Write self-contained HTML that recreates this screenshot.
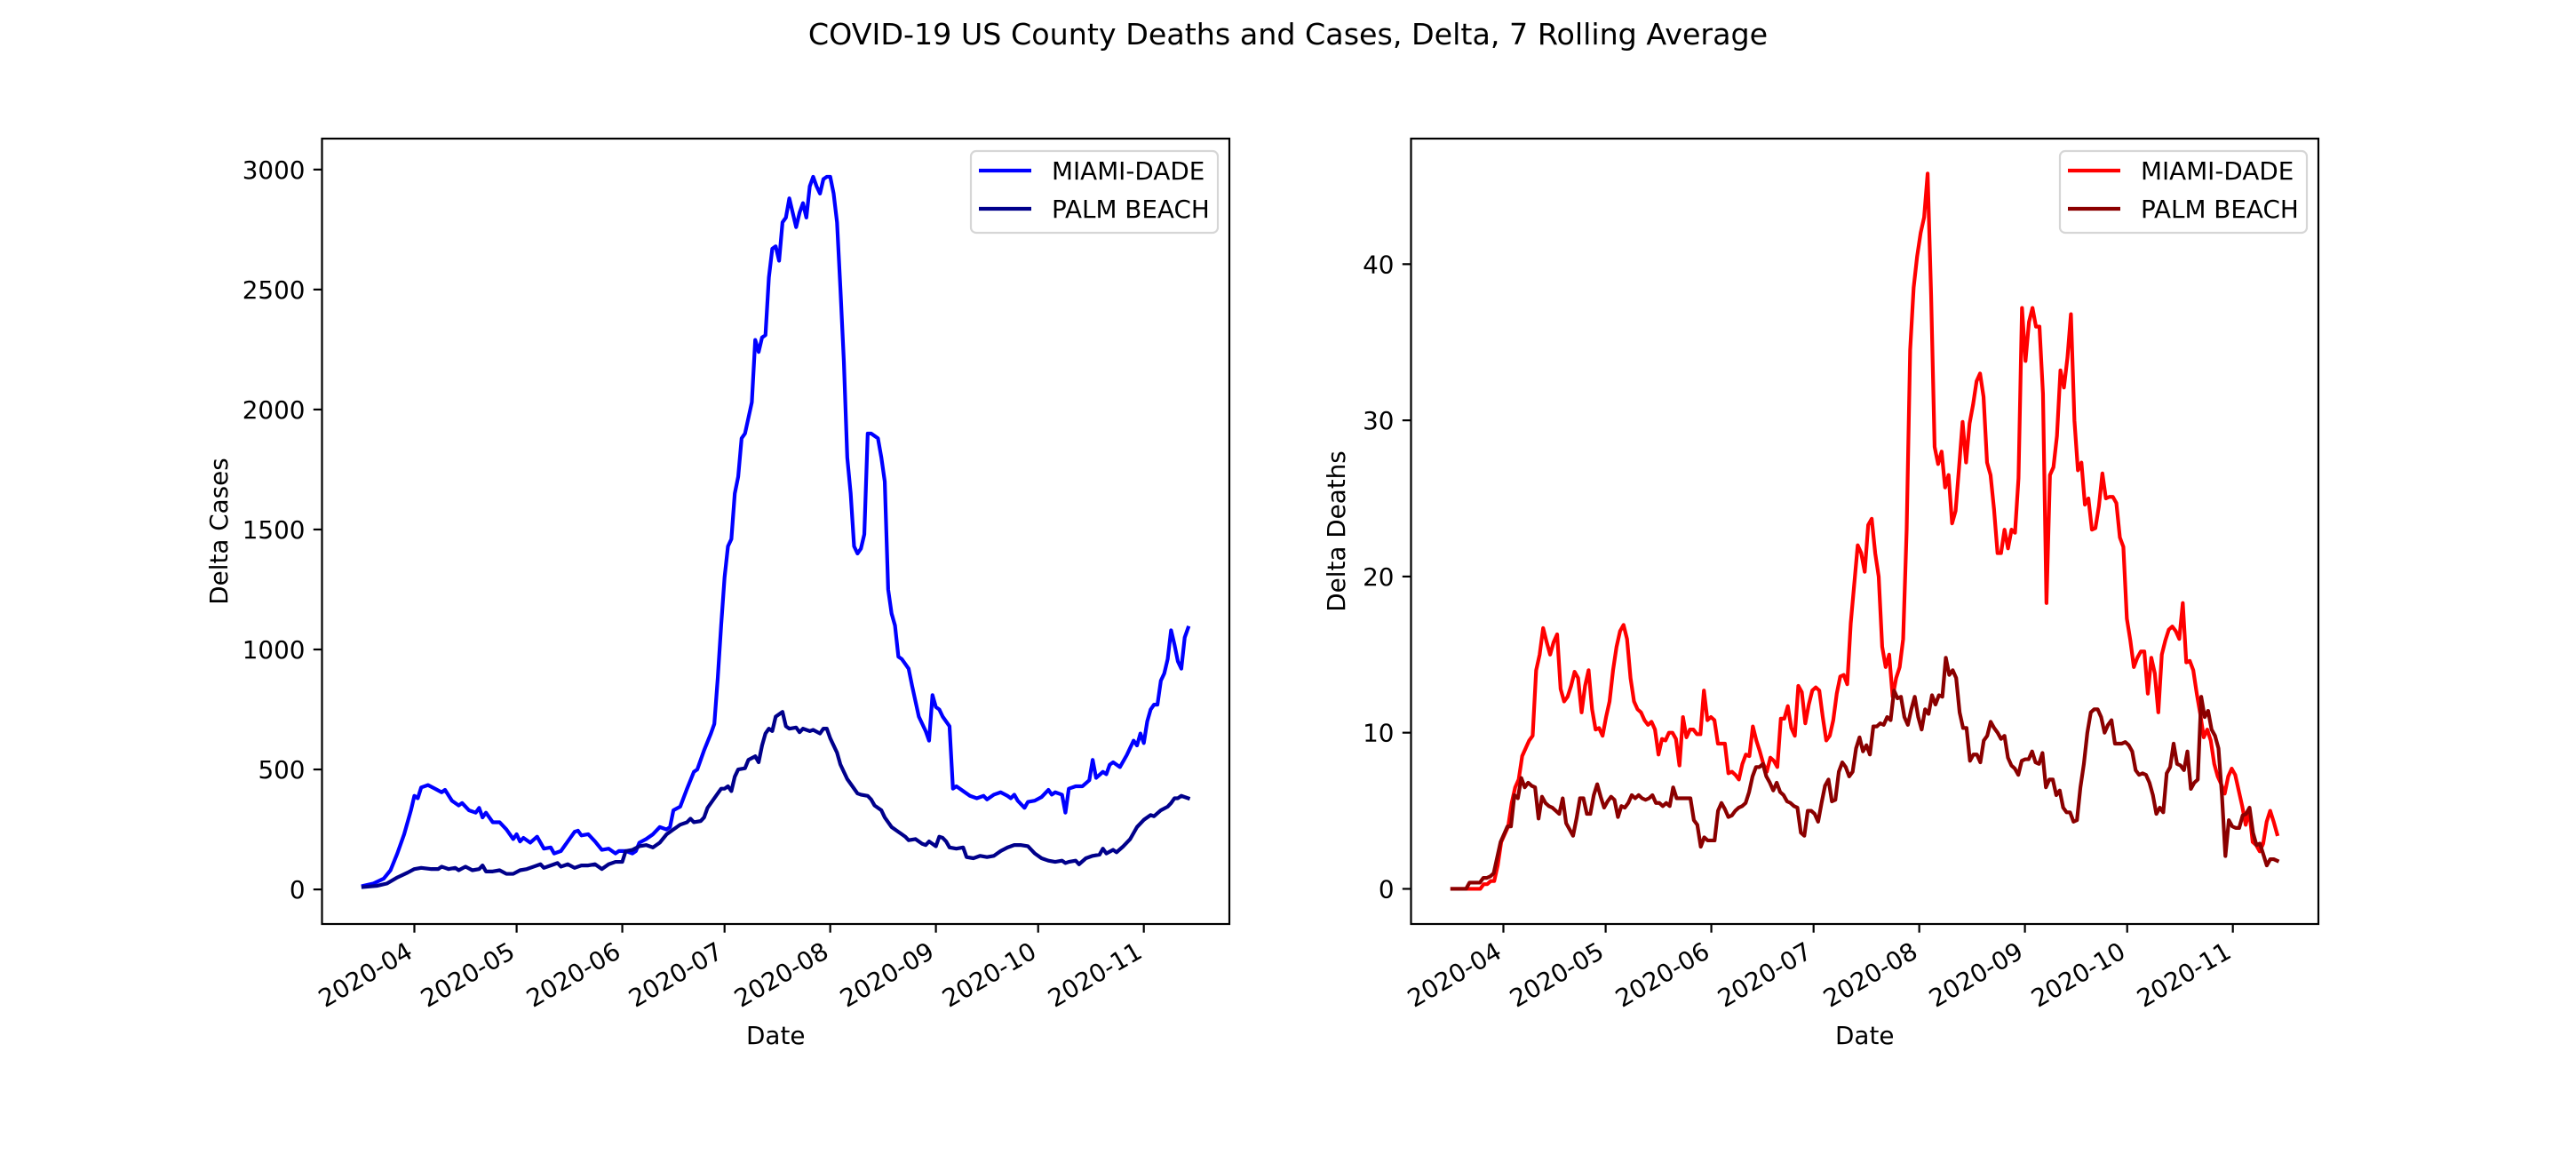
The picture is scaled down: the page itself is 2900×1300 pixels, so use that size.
<!DOCTYPE html>
<html><head><meta charset="utf-8"><style>
html,body{margin:0;padding:0;background:#fff;}
svg{display:block;font-family:"DejaVu Sans","Liberation Sans",sans-serif;}
</style></head><body>
<svg id="fig" width="2900" height="1300" viewBox="0 0 2900 1300">
<rect width="2900" height="1300" fill="#fff"/>
<text x="1450" y="50" font-size="33.3" text-anchor="middle">COVID-19 US County Deaths and Cases, Delta, 7 Rolling Average</text>
</svg>
<script>
// ---- data (day 0 = 2020-03-17) ----
const monthLabels = ["2020-04","2020-05","2020-06","2020-07","2020-08","2020-09","2020-10","2020-11"];
const monthDays = [15,45,76,106,137,168,198,229];
const casesTicks = [0,500,1000,1500,2000,2500,3000];
const deathsTicks = [0,10,20,30,40];
const seriesNames = ["MIAMI-DADE","PALM BEACH"];

const miamiCasesDays = [0,3,6,8,10,12,14,15,16,17,19,21,23,24,26,28,29,31,33,34,35,36,38,40,42,44,45,46,47,49,51,53,55,56,58,60,62,63,64,66,68,70,72,74,75,77,79,80,81,83,85,87,89,90,91,93,95,97,98,99,100,102,103,104,105,106,107,108,109,110,111,112,114,115,116,117,118,119,120,121,122,123,124,125,126,127,128,129,130,131,132,133,134,135,136,137,138,139,140,141,142,143,144,145,146,147,148,149,150,151,152,153,154,155,156,157,158,159,160,161,163,164,165,166,167,168,169,170,172,173,174,176,178,180,182,183,185,187,189,190,191,192,194,195,197,199,201,202,203,205,206,207,209,211,213,214,215,217,218,219,220,222,224,226,227,228,229,230,231,232,233,234,235,236,237,238,239,240,241,242];
const miamiCases = [15,25,45,80,150,230,330,390,380,425,435,420,405,415,370,350,360,330,320,340,300,320,280,280,250,210,230,200,215,195,220,170,175,150,160,200,240,245,225,230,200,165,170,150,160,160,150,160,195,210,230,260,250,260,330,345,420,490,500,540,580,650,690,880,1100,1300,1430,1460,1650,1720,1880,1900,2030,2290,2240,2300,2310,2550,2670,2680,2620,2780,2800,2880,2820,2760,2820,2860,2800,2930,2970,2930,2900,2960,2970,2970,2900,2780,2500,2200,1800,1650,1430,1400,1420,1480,1900,1900,1890,1880,1800,1700,1250,1150,1100,970,960,940,920,850,720,690,660,620,810,760,750,720,680,420,430,410,390,380,390,375,395,405,390,380,395,370,340,365,370,385,415,395,405,395,320,420,430,430,455,540,465,490,480,520,530,510,560,620,600,650,610,700,750,770,770,870,900,960,1080,1020,950,920,1050,1090];

const palmCasesDays = [0,4,7,10,13,15,17,20,22,23,25,27,28,30,32,34,35,36,38,40,42,44,46,48,50,52,53,55,57,58,60,62,64,66,68,70,72,74,76,77,79,81,83,85,87,89,91,93,95,96,97,99,100,101,103,105,106,107,108,109,110,112,113,115,116,117,118,119,120,121,123,124,125,127,128,129,131,132,134,135,136,137,138,139,140,142,143,145,146,148,149,150,152,153,155,157,159,160,162,164,165,166,168,169,170,171,172,174,176,177,179,181,183,185,187,189,191,193,195,197,199,201,203,205,206,207,209,210,212,214,216,217,218,220,221,223,225,227,229,231,232,234,236,237,238,239,240,241,242];
const palmCases = [10,15,25,50,70,85,90,85,85,95,85,90,80,95,80,85,100,75,75,80,65,65,80,85,95,105,90,100,110,95,105,90,100,100,105,85,105,115,115,160,165,180,185,175,195,230,250,270,280,295,280,285,300,340,380,420,420,430,410,470,500,505,540,555,530,600,650,670,660,720,740,680,670,675,655,670,660,665,650,670,670,630,600,570,520,460,440,400,395,390,375,350,330,300,260,240,220,205,210,190,185,200,180,220,215,200,175,170,175,135,130,140,135,140,160,175,185,185,180,150,130,120,115,120,110,115,120,105,130,140,145,170,150,165,155,180,210,260,290,310,305,330,345,360,380,380,390,385,380];

const miamiDeaths = [0,0,0,0,0,0,0,0,0,0.3,0.3,0.5,0.5,1.5,3,3.5,4,5.5,6.5,7,8.5,9,9.5,9.8,14,15,16.7,15.8,15,15.8,16.3,12.8,12,12.3,13,13.9,13.5,11.3,13,14,11.5,10.2,10.3,9.8,11,12,14,15.5,16.5,16.9,16,13.5,12,11.5,11.3,10.8,10.5,10.7,10.2,8.6,9.6,9.5,10,10,9.6,7.9,11,9.7,10.2,10.2,9.9,9.9,12.7,10.8,11,10.8,9.3,9.3,9.3,7.4,7.5,7.3,7.0,8.0,8.6,8.5,10.4,9.5,8.8,8.0,7.5,8.4,8.2,7.8,10.9,10.9,11.7,10.3,9.8,13,12.6,10.6,11.8,12.7,12.9,12.7,11,9.5,9.8,10.8,12.5,13.6,13.7,13.1,17,19.5,22,21.5,20.3,23.3,23.7,21.5,20,15.5,14.2,15,12.3,13.5,14.2,16,23,34.5,38.5,40.5,42,43,45.8,38,28.3,27.2,28,25.7,26.5,23.4,24.2,27,29.9,27.3,29.8,31,32.5,33,31.5,27.3,26.5,24.3,21.5,21.5,23,21.8,23,22.8,26.3,37.2,33.8,36.3,37.2,36,36,31.7,18.3,26.5,27,29,33.2,32.1,34,36.8,30,26.8,27.3,24.6,25,23,23.1,24.5,26.6,25,25.1,25.1,24.7,22.5,21.9,17.3,15.9,14.2,14.8,15.2,15.2,12.5,14.8,13.8,11.3,15,15.9,16.6,16.8,16.5,16,18.3,14.5,14.6,14,12.5,11.2,9.7,10.2,9.5,8,7.2,6.7,6.1,7.2,7.7,7.3,6.3,5.3,4.1,5,3,2.8,2.4,2.9,4.3,5,4.3,3.5];
const palmDeaths = [0,0,0,0,0,0.4,0.4,0.4,0.4,0.7,0.7,0.8,1,2,3,3.5,4,4,6,5.8,7.1,6.5,6.8,6.6,6.5,4.5,5.9,5.5,5.3,5.2,5,4.8,5.8,4.2,3.8,3.4,4.5,5.8,5.8,4.8,4.8,6,6.7,5.9,5.2,5.6,5.9,5.7,4.6,5.3,5.2,5.5,6,5.8,6,5.8,5.7,5.8,6,5.5,5.5,5.3,5.5,5.3,6.5,5.8,5.8,5.8,5.8,5.8,4.4,4.1,2.7,3.3,3.1,3.1,3.1,5,5.5,5.1,4.6,4.7,5,5.2,5.3,5.5,6.2,7.2,7.8,7.8,8,7.2,6.8,6.3,6.8,6.2,6,5.6,5.5,5.3,5.2,3.6,3.4,5,5,4.8,4.3,5.5,6.6,7,5.6,5.7,7.5,8.1,7.8,7.2,7.5,9,9.7,8.8,9.2,8.6,10.4,10.4,10.6,10.5,11,10.8,12.7,12.2,12.3,11,10.5,11.5,12.3,11,10.2,11.5,11.2,12.4,11.8,12.4,12.3,14.8,13.7,14,13.5,11.3,10.3,10.3,8.2,8.6,8.6,8.1,9.5,9.8,10.7,10.3,10,9.6,9.8,8.4,7.9,7.7,7.3,8.2,8.3,8.3,8.8,8.1,8,8.7,6.5,7,7,6,6.3,5.2,4.9,4.9,4.3,4.4,6.5,8,10,11.3,11.5,11.5,11,10,10.5,10.8,9.3,9.3,9.3,9.4,9.2,8.8,7.6,7.3,7.4,7.3,6.8,6,4.8,5.2,4.9,7.4,7.8,9.3,8,7.9,7.6,8.8,6.4,6.8,7,12.3,11,11.4,10.2,9.8,9,6,2.1,4.4,4,3.9,3.9,4.7,4.8,5.2,3.6,2.8,2.9,2.2,1.5,1.9,1.9,1.8];

const NS = "http://www.w3.org/2000/svg";
const svg = document.getElementById("fig");
function mk(tag, attrs, parent){ const e=document.createElementNS(NS,tag); for(const k in attrs) e.setAttribute(k,attrs[k]); (parent||svg).appendChild(e); return e; }

const FS = 27.8;
const DAY_MIN = -12.1, DAY_MAX = 254.1, LAST_DAY = 242;

function drawAxes(ax){
  const g = mk("g",{});
  
  
  const xs = d => ax.x0 + (d-DAY_MIN)/(DAY_MAX-DAY_MIN)*(ax.x1-ax.x0);
  const ys = v => ax.y1 - (v-ax.ymin)/(ax.ymax-ax.ymin)*(ax.y1-ax.y0);
  // series
  ax.series.forEach(s=>{
    let pts;
    if(s.days){ pts = s.days.map((d,i)=>xs(d).toFixed(2)+","+ys(s.vals[i]).toFixed(2)); }
    else { const n=s.vals.length; pts = s.vals.map((v,i)=>xs(i*LAST_DAY/(n-1)).toFixed(2)+","+ys(v).toFixed(2)); }
    const pl = mk("polyline",{points:pts.join(" "),fill:"none",stroke:s.color,"stroke-width":4.2,"stroke-linejoin":"round","stroke-linecap":"square"},g);
    
    
  });
  const fr = mk("rect",{x:ax.x0,y:ax.y0,width:ax.x1-ax.x0,height:ax.y1-ax.y0,fill:"none",stroke:"#000","stroke-width":2.2},g);
  
  
  // y ticks
  ax.yticks.forEach(v=>{
    const y=ys(v);
    mk("line",{x1:ax.x0,x2:ax.x0-9.7,y1:y,y2:y,stroke:"#000","stroke-width":2.2},g);
    const t=mk("text",{x:ax.x0-19,y:y+10,"font-size":FS,"text-anchor":"end"},g);
    t.textContent=v;
    
    
  });
  // x ticks
  monthDays.forEach((d,i)=>{
    const x=xs(d);
    mk("line",{x1:x,x2:x,y1:ax.y1,y2:ax.y1+9.7,stroke:"#000","stroke-width":2.2},g);
    const t=mk("text",{x:x-6,y:ax.y1+38,"font-size":FS,"text-anchor":"end",transform:`rotate(-30 ${x-6} ${ax.y1+26})`},g);
    t.textContent=monthLabels[i];
    
    
  });
  const xl=mk("text",{x:(ax.x0+ax.x1)/2,y:1175,"font-size":FS,"text-anchor":"middle"},g);
  xl.textContent="Date";
  
  
  const yl=mk("text",{x:ax.ylabX,y:(ax.y0+ax.y1)/2,"font-size":FS,"text-anchor":"middle",transform:`rotate(-90 ${ax.ylabX} ${(ax.y0+ax.y1)/2})`},g);
  yl.textContent=ax.ylabel;
  
  
  // legend
  const lg=mk("g",{},g);
  
  
  const lx=ax.x1-291;
  mk("rect",{x:lx,y:170,width:278,height:92,rx:6,fill:"#fff",stroke:"#d6d6d6","stroke-width":2.2},lg);
  ax.series.forEach((s,i)=>{
    const y=192+i*43;
    const e=mk("g",{},lg);
    
    
    mk("line",{x1:lx+9,x2:lx+68,y1:y,y2:y,stroke:s.color,"stroke-width":4.2},e);
    const t=mk("text",{x:lx+91,y:y+10,"font-size":FS},e);
    t.textContent=seriesNames[i];
  });
}

drawAxes({name:"cases-chart",x0:362.5,x1:1384,y0:156,y1:1040,ymin:-144,ymax:3129,yticks:casesTicks,ylabel:"Delta Cases",ylabX:256,
  series:[{days:miamiCasesDays,vals:miamiCases,color:"#0000ff",dname:"miami-dade-cases-line"},
          {days:palmCasesDays,vals:palmCases,color:"#00008b",dname:"palm-beach-cases-line"}]});
drawAxes({name:"deaths-chart",x0:1588.5,x1:2610,y0:156,y1:1040,ymin:-2.25,ymax:48.04,yticks:deathsTicks,ylabel:"Delta Deaths",ylabX:1514,
  series:[{vals:miamiDeaths,color:"#ff0000",dname:"miami-dade-deaths-line"},
          {vals:palmDeaths,color:"#8b0000",dname:"palm-beach-deaths-line"}]});
</script>
</body></html>
